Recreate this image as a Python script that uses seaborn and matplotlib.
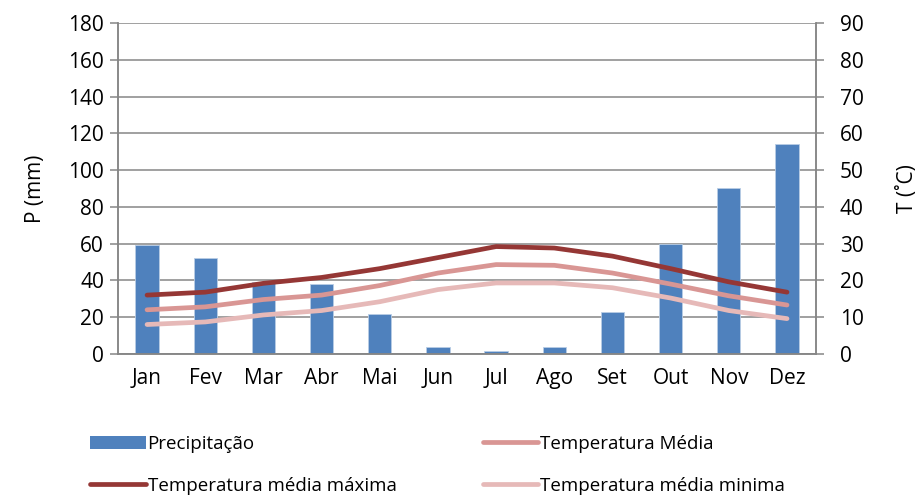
import numpy as np
import pandas as pd
import seaborn as sns
import matplotlib.pyplot as plt
from matplotlib.patches import Patch
from matplotlib.lines import Line2D

meses = ['Jan', 'Fev', 'Mar', 'Abr', 'Mai', 'Jun', 'Jul', 'Ago', 'Set', 'Out', 'Nov', 'Dez']
precip = [59, 52, 39, 38, 21.6, 4, 1.6, 3.6, 22.8, 60, 90, 114]
t_max = [16, 16.8, 19.2, 20.8, 23.2, 26.2, 29.2, 28.8, 26.6, 23.2, 19.6, 16.8]
t_med = [12, 12.8, 14.8, 16, 18.6, 22, 24.3, 24.1, 22, 19, 15.8, 13.3]
t_min = [8, 8.7, 10.6, 11.8, 14.2, 17.5, 19.3, 19.3, 18, 15.2, 11.8, 9.6]

sns.set_style('white')
plt.rcParams['font.family'] = ['Open Sans', 'DejaVu Sans']
plt.rcParams['text.color'] = 'black'
plt.rcParams['axes.labelcolor'] = 'black'
plt.rcParams['xtick.color'] = 'black'
plt.rcParams['ytick.color'] = 'black'

c_bar = '#4F81BD'
c_max = '#953735'
c_med = '#D99694'
c_min = '#E6B9B8'
grey = '#868686'
fs = 15

df = pd.DataFrame({'mes': meses, 'P': precip})

fig = plt.figure(figsize=(9.18, 4.95), dpi=100)
ax = fig.add_axes([0.1285, 0.285, 0.7605, 0.6685])

sns.barplot(data=df, x='mes', y='P', color=c_bar, width=0.4, saturation=1,
            edgecolor='#B9CDE5', linewidth=0.6, ax=ax, zorder=2)
ax.set_ylim(0, 180)
ax.set_yticks(range(0, 181, 20))
ax.set_xlim(-0.5, 11.5)
ax.set_xlabel('')
ax.set_ylabel('P (mm)', fontsize=fs, labelpad=16)
ax.grid(axis='y', color=grey, linewidth=1.1, zorder=0)
ax.set_axisbelow(True)

# ticks between categories, like the spreadsheet
ax.set_xticks(np.arange(-0.5, 12, 1), minor=True)
ax.tick_params(axis='x', which='major', length=0, labelsize=fs, pad=10)
ax.tick_params(axis='x', which='minor', length=6, color=grey, width=1.1)
ax.tick_params(axis='y', length=6, color=grey, width=1.1, labelsize=fs, left=True, pad=4)

ax2 = ax.twinx()
x = np.arange(12)
sns.lineplot(x=x, y=t_max, color=c_max, linewidth=3.4, ax=ax2, zorder=3)
sns.lineplot(x=x, y=t_med, color=c_med, linewidth=3.4, ax=ax2, zorder=3)
sns.lineplot(x=x, y=t_min, color=c_min, linewidth=3.4, ax=ax2, zorder=3)
for l in ax2.get_lines():
    l.set_solid_capstyle('round')
    l.set_solid_joinstyle('round')
ax2.set_ylim(0, 90)
ax2.set_yticks(range(0, 91, 10))
ax2.set_ylabel('T (˚C)', fontsize=fs, labelpad=24)
ax2.tick_params(axis='y', length=6, color=grey, width=1.1, labelsize=fs, right=True, pad=11)
ax2.grid(False)

for a in (ax, ax2):
    for s in a.spines.values():
        s.set_color(grey)
        s.set_linewidth(1.1)
ax2.spines['top'].set_visible(False)
ax.spines['top'].set_visible(False)

handles = [
    Patch(facecolor=c_bar, edgecolor='none'),
    Line2D([], [], color=c_max, linewidth=3.4, solid_capstyle='round'),
    Line2D([], [], color=c_med, linewidth=3.4, solid_capstyle='round'),
    Line2D([], [], color=c_min, linewidth=3.4, solid_capstyle='round'),
]
labels = ['Precipitação', 'Temperatura média máxima', 'Temperatura Média', 'Temperatura média minima']
fig.legend(handles, labels, ncol=2, loc='upper left', bbox_to_anchor=(0.08, 0.156),
           frameon=False, fontsize=13.5, handlelength=2.95, handletextpad=0.1,
           columnspacing=4.6, labelspacing=1.3)

fig.savefig('out.png', dpi=100)
